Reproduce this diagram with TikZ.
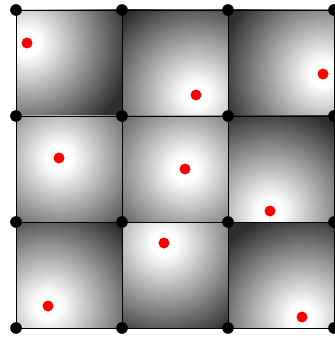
\documentclass[tikz,border=0pt]{standalone}
\usepackage{tikz}
\usetikzlibrary{positioning}
\pgfdeclareradialshading{cellglow}{\pgfpoint{0bp}{0bp}}{%
  color(0bp)=(white); color(3bp)=(white); color(25bp)=(black!82);
  color(50bp)=(black!82)}

\begin{document}
\begin{tikzpicture}[x=0.03cm, y=-0.03cm]
  \useasboundingbox (0,0) rectangle (334,341);
  % Cells, each lit from its own feature point
  \foreach \i/\j/\px/\py in {0/0/27/43, 1/0/196/95, 2/0/323/74,
                             0/1/59/158, 1/1/185/169, 2/1/270/211,
                             0/2/48/306, 1/2/164/243, 2/2/302/317} {
    \begin{scope}
      \clip (16+\i*106, 10+\j*106) rectangle ++(106,106);
      \shade[shading=cellglow] (\px-105,\py-105) rectangle (\px+105,\py+105);
    \end{scope}
    \draw[line width=0.6pt] (16+\i*106, 10+\j*106) rectangle ++(106,106);
  }
  % Feature points
  \foreach \i/\j/\px/\py in {0/0/27/43, 1/0/196/95, 2/0/323/74,
                             0/1/59/158, 1/1/185/169, 2/1/270/211,
                             0/2/48/306, 1/2/164/243, 2/2/302/317} {
    \node[circle, fill=red, minimum size=0.33cm, inner sep=0pt]
      (f\i\j) at (\px,\py) {};
  }
  % Grid corners
  \foreach \i in {0,...,3} {
    \foreach \j in {0,...,3} {
      \node[circle, fill=black, minimum size=0.35cm, inner sep=0pt]
        (k\i\j) at (16+\i*106, 10+\j*106) {};
    }
  }
\end{tikzpicture}
\end{document}
